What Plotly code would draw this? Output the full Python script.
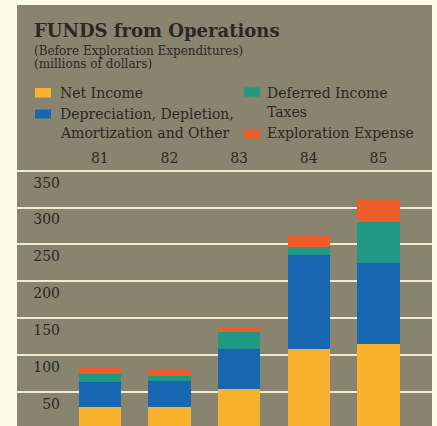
import plotly.graph_objects as go

# Fiscal years and funds components (millions of dollars)
years = ["81", "82", "83", "84", "85"]
net_income = [29, 29, 54, 108, 115]
depreciation = [34, 36, 54, 127, 110]
deferred_taxes = [11, 6, 23, 12, 56]
exploration = [9.5, 8, 6, 16, 29.5]
y_ticks = [50, 100, 150, 200, 250, 300, 350]

series = [
    ("Net Income", net_income, "#f8b22e"),
    ("Depreciation, Depletion, Amortization and Other", depreciation, "#1766b2"),
    ("Deferred Income Taxes", deferred_taxes, "#1f9886"),
    ("Exploration Expense", exploration, "#ee5c2c"),
]

W, H = 437, 426
PL, PR, PT, PB = 17, 432, 167, 426  # plot area in pixels
PANEL = "#898470"
INK = "#2a2920"
SERIF = "DejaVu Serif"


def px(x):
    return (x - PL) / (PR - PL)


def py(y):
    return (PB - y) / (PB - PT)


fig = go.Figure()
for name, vals, col in series:
    fig.add_trace(go.Bar(x=list(range(len(years))), y=vals, name=name,
                         marker=dict(color=col, line=dict(width=0)),
                         width=0.61, showlegend=False))

shapes = [
    # background panel
    dict(type="rect", xref="paper", yref="paper", x0=px(17), x1=px(432),
         y0=py(426), y1=py(5), fillcolor=PANEL, line=dict(width=0), layer="below"),
]

annotations = [
    dict(text="<b>FUNDS from Operations</b>", x=px(32), y=py(31), font=dict(size=18)),
    dict(text="(Before Exploration Expenditures)", x=px(32), y=py(51), font=dict(size=12)),
    dict(text="(millions of dollars)", x=px(32), y=py(64), font=dict(size=12)),
]

# legend: swatch boxes and labels in two columns
legend_boxes = [
    (35, 51, 88, 97.5, series[0][2]),
    (35, 51, 109.5, 118.5, series[1][2]),
    (244, 260, 87.5, 96.5, series[2][2]),
    (244, 260, 129.5, 138.5, series[3][2]),
]
for x0, x1, y0, y1, col in legend_boxes:
    shapes.append(dict(type="rect", xref="paper", yref="paper", x0=px(x0), x1=px(x1),
                       y0=py(y1), y1=py(y0), fillcolor=col, line=dict(width=0)))

legend_lines = [
    ("Net Income", 58, 93),
    ("Depreciation, Depletion,", 58, 114),
    ("Amortization and Other", 58, 133),
    ("Deferred Income", 265, 93),
    ("Taxes", 265, 112),
    ("Exploration Expense", 265, 133),
]
for t, x, y in legend_lines:
    annotations.append(dict(text=t, x=px(x), y=py(y), font=dict(size=14)))

for a in annotations:
    a.update(xref="paper", yref="paper", xanchor="left", yanchor="middle",
             showarrow=False)
    a["font"].update(family=SERIF, color=INK)

fig.update_layout(
    width=W, height=H,
    margin=dict(l=PL, r=W - PR, t=PT, b=H - PB, pad=0),
    paper_bgcolor="#fcfbe7",
    plot_bgcolor=PANEL,
    barmode="stack",
    shapes=shapes,
    annotations=annotations,
    font=dict(family=SERIF, color=INK, size=14),
    xaxis=dict(range=[-1.19, 4.77], side="top", tickmode="array",
               tickvals=list(range(len(years))), ticktext=years,
               showgrid=False, zeroline=False, showline=False, ticks="",
               tickfont=dict(size=14)),
    yaxis=dict(range=[3.4, 355.0], tickvals=y_ticks, anchor="free", position=px(60),
               showgrid=True, gridcolor="#f1ebd2", gridwidth=2, zeroline=False,
               showline=False, ticks="", ticklabelshift=12, tickfont=dict(size=14)),
)

fig.write_html("out.html")
